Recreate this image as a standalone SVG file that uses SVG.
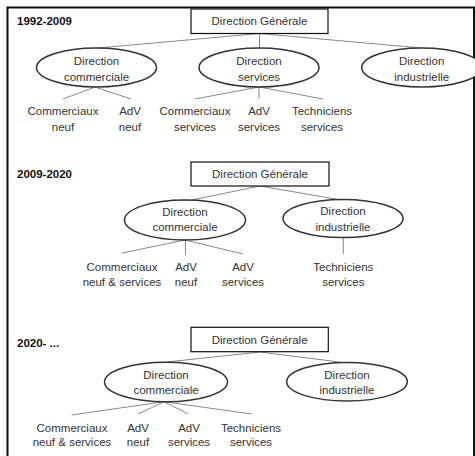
<svg xmlns="http://www.w3.org/2000/svg" width="475" height="456" viewBox="0 0 475 456">
<style>
text{font-family:"Liberation Sans",Arial,sans-serif;font-size:11.5px;fill:#333;text-anchor:middle}
.yr{font-weight:bold;text-anchor:start;fill:#111}
.box{fill:#fff;stroke:#111;stroke-width:1.2}
.ell{fill:#fff;stroke:#333;stroke-width:1.5}
.con line{stroke:#888;stroke-width:1}
.frame{fill:none;stroke:#111;stroke-width:2}
</style>
<rect width="475" height="456" fill="#fff"/>
<path class="frame" d="M7.5,460 V7.5 H474 V460"/>

<g id="connectors" class="con">
<line x1="259.5" y1="33.5" x2="98" y2="48"/>
<line x1="259.5" y1="33.5" x2="259.5" y2="48"/>
<line x1="259.5" y1="33.5" x2="421.7" y2="48"/>
<line x1="95" y1="87" x2="63" y2="99"/>
<line x1="95" y1="87" x2="131" y2="99"/>
<line x1="259" y1="87" x2="195" y2="99"/>
<line x1="259" y1="87" x2="259" y2="99"/>
<line x1="259" y1="87" x2="323" y2="99"/>

<line x1="260" y1="186" x2="191.7" y2="200"/>
<line x1="260" y1="186" x2="338.3" y2="199.5"/>
<line x1="185" y1="240" x2="122" y2="253"/>
<line x1="185.5" y1="240" x2="185.5" y2="255"/>
<line x1="185" y1="240" x2="243" y2="254"/>
<line x1="343.3" y1="237.5" x2="343.3" y2="254"/>

<line x1="260" y1="352" x2="166.7" y2="362"/>
<line x1="260" y1="352" x2="341.7" y2="362.3"/>
<line x1="164" y1="401.7" x2="71.7" y2="415"/>
<line x1="164" y1="401.7" x2="138.3" y2="414"/>
<line x1="164" y1="401.7" x2="188.3" y2="414"/>
<line x1="164" y1="401.7" x2="251.7" y2="414"/>
</g>

<!-- Section 1 -->
<text class="yr" x="17" y="25">1992-2009</text>
<g id="dg1"><rect class="box" x="191" y="9" width="137" height="24.5"/><text x="259.5" y="25">Direction Générale</text></g>
<g id="dc1"><ellipse class="ell" cx="96.5" cy="67.5" rx="60" ry="19.5"/><text x="96.5" y="65">Direction</text><text x="96.5" y="81">commerciale</text></g>
<g id="ds1"><ellipse class="ell" cx="259" cy="67.5" rx="60" ry="19.5"/><text x="259" y="65">Direction</text><text x="259" y="81">services</text></g>
<g id="di1"><ellipse class="ell" cx="421.7" cy="67.5" rx="60" ry="19.5"/><text x="421.7" y="65">Direction</text><text x="421.7" y="81">industrielle</text></g>
<g id="cn1"><text x="63" y="115">Commerciaux</text><text x="63" y="130.5">neuf</text></g>
<g id="an1"><text x="130" y="115">AdV</text><text x="130" y="130.5">neuf</text></g>
<g id="cs1"><text x="195" y="115">Commerciaux</text><text x="195" y="130.5">services</text></g>
<g id="as1"><text x="259" y="115">AdV</text><text x="259" y="130.5">services</text></g>
<g id="ts1"><text x="322" y="115">Techniciens</text><text x="322" y="130.5">services</text></g>

<!-- Section 2 -->
<text class="yr" x="17" y="178.3">2009-2020</text>
<g id="dg2"><rect class="box" x="191" y="162" width="138" height="24"/><text x="260" y="178">Direction Générale</text></g>
<g id="dc2"><ellipse class="ell" cx="185" cy="220" rx="60.5" ry="20"/><text x="185" y="215.5">Direction</text><text x="185" y="230.5">commerciale</text></g>
<g id="di2"><ellipse class="ell" cx="343" cy="218.5" rx="60" ry="19"/><text x="343" y="215">Direction</text><text x="343" y="230.7">industrielle</text></g>
<g id="cn2"><text x="122" y="270.5">Commerciaux</text><text x="122" y="285.5">neuf &amp; services</text></g>
<g id="an2"><text x="186" y="270.5">AdV</text><text x="186" y="285.5">neuf</text></g>
<g id="as2"><text x="243" y="270.5">AdV</text><text x="243" y="285.5">services</text></g>
<g id="ts2"><text x="343.3" y="270.5">Techniciens</text><text x="343.3" y="285.5">services</text></g>

<!-- Section 3 -->
<text class="yr" x="17" y="346.7">2020- ...</text>
<g id="dg3"><rect class="box" x="191" y="327.3" width="137.3" height="24.4"/><text x="259.6" y="343.5">Direction Générale</text></g>
<g id="dc3"><ellipse class="ell" cx="166" cy="382" rx="61.5" ry="19.7"/><text x="166" y="379">Direction</text><text x="166" y="394">commerciale</text></g>
<g id="di3"><ellipse class="ell" cx="347" cy="381.7" rx="60.3" ry="19.3"/><text x="347" y="379">Direction</text><text x="347" y="394">industrielle</text></g>
<g id="cn3"><text x="72" y="431.7">Commerciaux</text><text x="72" y="446.3">neuf &amp; services</text></g>
<g id="an3"><text x="138" y="431.7">AdV</text><text x="138" y="446.3">neuf</text></g>
<g id="as3"><text x="189" y="431.7">AdV</text><text x="189" y="446.3">services</text></g>
<g id="ts3"><text x="251" y="431.7">Techniciens</text><text x="251" y="446.3">services</text></g>
</svg>
